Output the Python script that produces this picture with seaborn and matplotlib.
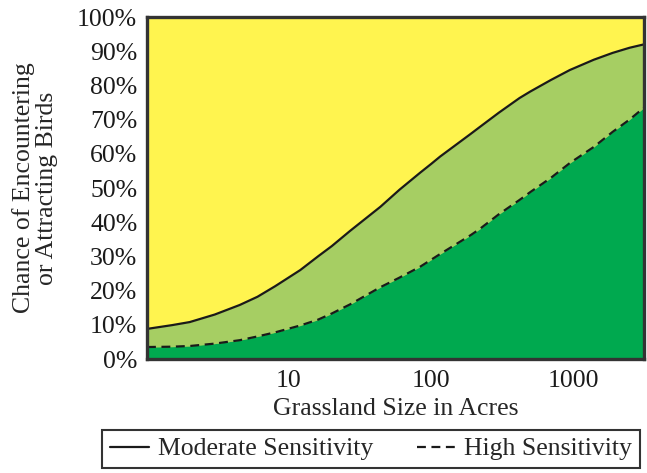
import numpy as np
import pandas as pd
import matplotlib
matplotlib.use("Agg")
import matplotlib.pyplot as plt
import seaborn as sns

# values (percent chance vs acres)
acres = [1, 1.5, 2, 3, 4.5, 6, 8, 12, 16, 20, 27, 44, 60, 84, 100, 116,
         190, 220, 300, 420, 500, 700, 950, 1400, 1900, 2500, 3162]
moderate = [8.8, 9.9, 10.8, 13, 15.8, 18.2, 21.3, 26, 30, 33, 37.5, 44.5, 49.5,
            54.5, 57, 59.2, 65.8, 67.8, 72, 76.3, 78.2, 81.6, 84.5, 87.5, 89.5,
            91, 92]
high = [3.5, 3.6, 3.8, 4.5, 5.5, 6.6, 7.8, 9.8, 11.5, 13.3, 16, 21, 23.8, 27,
        29, 30.7, 36.2, 38, 42.3, 46.5, 48.8, 53, 57.3, 62, 66.4, 70, 73.5]
y_ticks = [0, 10, 20, 30, 40, 50, 60, 70, 80, 90, 100]
x_ticks = [10, 100, 1000]

df = pd.DataFrame({"acres": acres, "moderate": moderate, "high": high})

sns.set_style("white")
plt.rcParams['font.family'] = ['Liberation Serif', 'DejaVu Serif']

fig = plt.figure(figsize=(6.47, 4.73), dpi=100)
ax = fig.add_axes([147 / 647, 1 - 359 / 473, 497 / 647, 342 / 473])

yellow = "#FFF44F"
light_green = "#A6CE63"
dark_green = "#00A94F"

ax.set_facecolor(yellow)
ax.fill_between(df["acres"], df["high"], df["moderate"], color=light_green, lw=0)
ax.fill_between(df["acres"], 0, df["high"], color=dark_green, lw=0)

sns.lineplot(data=df, x="acres", y="moderate", ax=ax, color="#1a1a1a", lw=1.6,
             label="Moderate Sensitivity")
sns.lineplot(data=df, x="acres", y="high", ax=ax, color="#1a1a1a", lw=1.6,
             linestyle=(0, (4, 2.5)), label="High Sensitivity")
ax.axhline(0, color="#1a1a1a", lw=2, linestyle=(0, (4, 2.5)))

ax.set_xscale("log")
ax.set_xlim(1, 3162)
ax.set_ylim(0, 100)
ax.set_xticks(x_ticks)
ax.set_xticklabels([str(t) for t in x_ticks])
ax.xaxis.set_minor_locator(matplotlib.ticker.NullLocator())
ax.set_yticks(y_ticks)
ax.set_yticklabels([f"{t}%" for t in y_ticks])
ax.tick_params(axis="both", length=0, labelsize=18.5, colors="#1a1a1a")
ax.tick_params(axis="y", pad=7)
ax.tick_params(axis="x", pad=8)

ax.set_xlabel("Grassland Size in Acres", fontsize=18.5, labelpad=4)
ax.set_ylabel("Chance of Encountering\nor Attracting Birds", fontsize=18.5,
              labelpad=14, linespacing=1.05)

for s in ax.spines.values():
    s.set_visible(True)
    s.set_color("#333333")
    s.set_linewidth(2.4)

handles, labels = ax.get_legend_handles_labels()
ax.get_legend().remove()
leg = fig.legend(handles, labels, loc="center", ncol=2,
                 bbox_to_anchor=(371 / 647, 1 - 449 / 473),
                 fontsize=18.5, frameon=True, fancybox=False,
                 edgecolor="black", handlelength=1.5, handletextpad=0.35,
                 columnspacing=1.7, borderpad=0.3, borderaxespad=0)
leg.get_frame().set_linewidth(1.5)

fig.savefig("out.png", dpi=100)
